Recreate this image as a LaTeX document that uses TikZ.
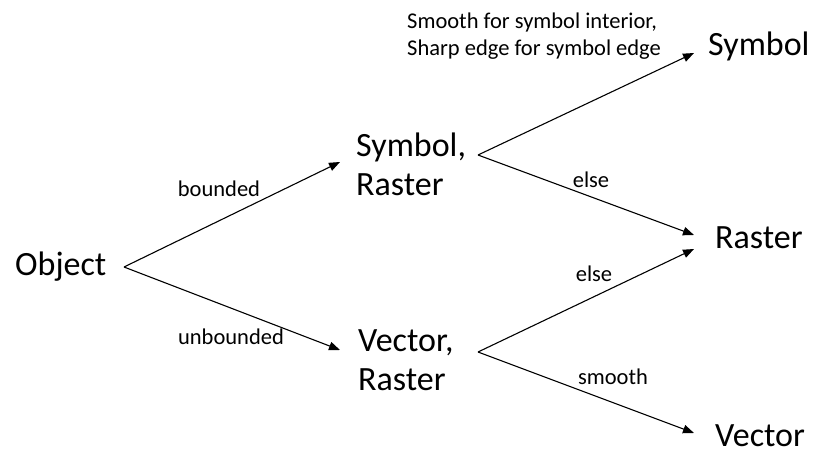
\documentclass[tikz,border=0pt]{standalone}
\usepackage{fontspec}
\setmainfont{Carlito}
\usetikzlibrary{arrows.meta}
\begin{document}
\begin{tikzpicture}[x=1pt,y=-1pt,
  big/.style={font=\fontsize{34}{39}\selectfont, inner sep=0pt, anchor=west, align=left},
  small/.style={font=\fontsize{22.5}{26.5}\selectfont, inner sep=0pt, align=left},
  edge/.style={line width=1.1pt, -{Triangle[length=11pt,width=8.5pt]}}]
\useasboundingbox (0,0) rectangle (814,455);

% states
\node[big] (obj) at (15,267) {Object};
\node[big] (sr)  at (356,164) {Symbol,\\Raster};
\node[big] (vr)  at (358,360) {Vector,\\Raster};
\node[big] (sym) at (708,46) {Symbol};
\node[big] (ras) at (715,238) {Raster};
\node[big] (vec) at (715,436) {Vector};

% branch points and arrow ends
\coordinate (o0) at (124,267);
\coordinate (s0) at (478,155);
\coordinate (v0) at (478,352);
\coordinate (tsr) at (340,162);
\coordinate (tvr) at (340,350);
\coordinate (tsym) at (694,53);
\coordinate (tras1) at (694,235);
\coordinate (tras2) at (694,249);
\coordinate (tvec) at (694,433);

% transitions
\draw[edge] (o0) -- (tsr);
\draw[edge] (o0) -- (tvr);
\draw[edge] (s0) -- (tsym);
\draw[edge] (s0) -- (tras1);
\draw[edge] (v0) -- (tras2);
\draw[edge] (v0) -- (tvec);

% conditions
\node[small] (lb) at (219,189) {bounded};
\node[small] (lu) at (231,337) {unbounded};
\node[small, anchor=west] (ls) at (407,36) {Smooth for symbol interior,\\Sharp edge for symbol edge};
\node[small] (le1) at (591,180) {else};
\node[small] (le2) at (594,274) {else};
\node[small] (lsm) at (613,377) {smooth};
\end{tikzpicture}
\end{document}
